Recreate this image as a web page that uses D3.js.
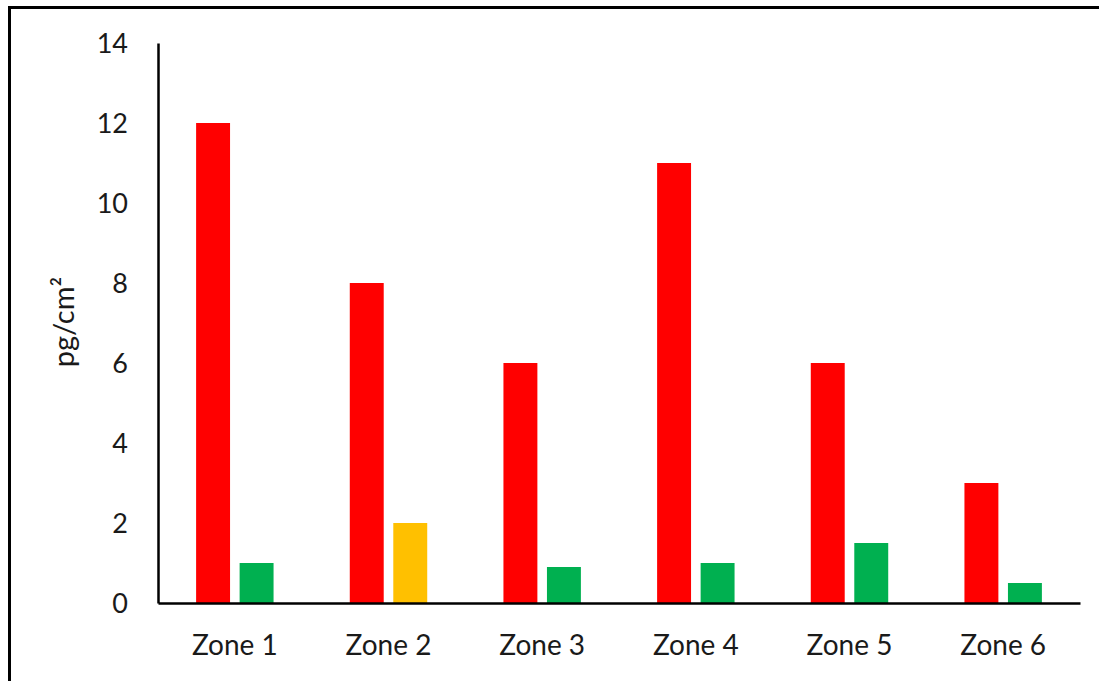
<!DOCTYPE html>
<html>
<head>
<meta charset="utf-8">
<script src="https://cdn.jsdelivr.net/npm/d3@7"></script>
<style>
  html, body { margin: 0; padding: 0; background: #fff; }
  svg { display: block; }
  text { font-family: Lato, "Open Sans", sans-serif; fill: #1a1a1a; }
</style>
</head>
<body>
<svg id="chart" width="1099" height="681"></svg>
<script>
const categories = ["Zone 1", "Zone 2", "Zone 3", "Zone 4", "Zone 5", "Zone 6"];
const seriesA = [12, 8, 6, 11, 6, 3];
const seriesB = [1, 2, 0.9, 1, 1.5, 0.5];
const seriesBColors = ["#00B050", "#FFC000", "#00B050", "#00B050", "#00B050", "#00B050"];
const yTicks = [0, 2, 4, 6, 8, 10, 12, 14];
const yLabel = "pg/cm²";

(function () {
const svg = d3.select("#chart");

// outer frame
svg.append("rect")
  .attr("x", 9.5).attr("y", 7.5)
  .attr("width", 1200).attr("height", 800)
  .attr("fill", "none").attr("stroke", "#000").attr("stroke-width", 3);

const mLeft = 158, mRight = 1080, mTop = 43, mBottom = 603;

const x0 = d3.scaleBand().domain(categories).range([mLeft, mRight]).paddingInner(0.496).paddingOuter(0.248);
const x1 = d3.scaleBand().domain(["a", "b"]).range([0, x0.bandwidth()]).paddingInner(0.22);
const y = d3.scaleLinear().domain([0, 14]).range([mBottom, mTop]);

const rows = categories.map((c, i) => ({ c, a: seriesA[i], b: seriesB[i], colB: seriesBColors[i] }));

const g = svg.append("g");
const grp = g.selectAll("g.cat").data(rows).enter().append("g")
  .attr("transform", d => `translate(${x0(d.c)},0)`);

grp.append("rect")
  .attr("x", x1("a")).attr("width", x1.bandwidth())
  .attr("y", d => y(d.a)).attr("height", d => y(0) - y(d.a))
  .attr("fill", "#FF0000");
grp.append("rect")
  .attr("x", x1("b")).attr("width", x1.bandwidth())
  .attr("y", d => y(d.b)).attr("height", d => y(0) - y(d.b))
  .attr("fill", d => d.colB);

// y axis
const yAxis = d3.axisLeft(y).tickValues(yTicks).tickSize(0).tickPadding(30).tickFormat(d3.format("d"));
const ya = svg.append("g").attr("transform", `translate(${mLeft},0)`).call(yAxis);
ya.select(".domain").attr("stroke", "#000").attr("stroke-width", 2.5);
ya.selectAll("text").attr("font-size", 27).attr("font-family", "Lato, sans-serif").attr("fill", "#1a1a1a").attr("dy", "0.35em");

// x axis
const xAxis = d3.axisBottom(x0).tickSize(0).tickPadding(32);
const xa = svg.append("g").attr("transform", `translate(0,${mBottom})`).call(xAxis);
xa.select(".domain").attr("stroke", "#000").attr("stroke-width", 2.5);
xa.selectAll("text").attr("font-size", 28).attr("font-family", "Lato, sans-serif").attr("fill", "#1a1a1a");

// y label
svg.append("text")
  .attr("transform", `translate(74,322) rotate(-90)`)
  .attr("text-anchor", "middle")
  .attr("font-size", 29)
  .text(yLabel);
})();
</script>
</body>
</html>
